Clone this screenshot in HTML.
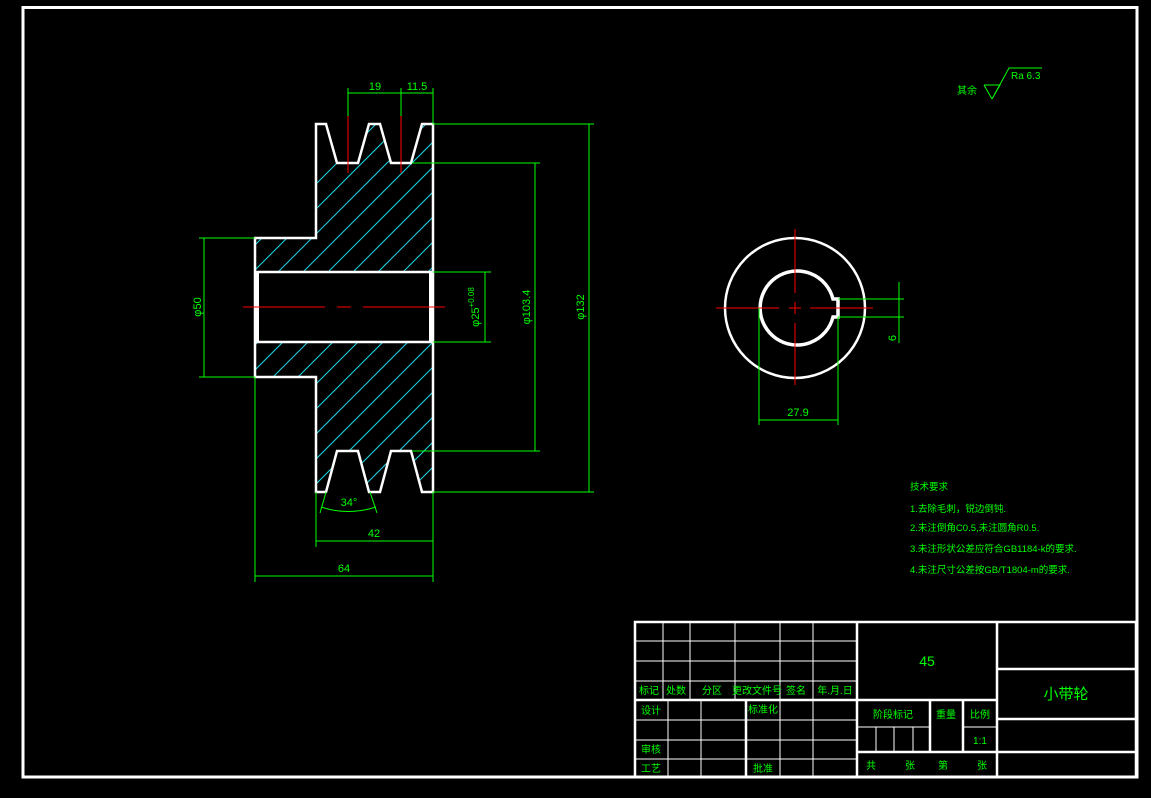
<!DOCTYPE html>
<html><head><meta charset="utf-8"><style>
html,body{margin:0;padding:0;background:#000;}
svg{display:block}
text{font-family:"Liberation Sans","Noto Sans CJK SC",sans-serif;fill:#00ff00;}
</style></head><body>
<svg width="1151" height="798" viewBox="0 0 1151 798" xmlns="http://www.w3.org/2000/svg">
<rect width="1151" height="798" fill="#000"/>
<rect x="23" y="7.5" width="1114" height="769.5" fill="none" stroke="#fff" stroke-width="3"/>
<defs>
<clipPath id="hatch">
<path d="M316,124 L326,124 L337,163 L358,163 L369,124 L380,124 L391,163 L411,163 L422,124 L433,124 L433,272 L255,272 L255,238 L316,238 Z"/>
<path d="M316,492 L326,492 L337,451 L358,451 L369,492 L380,492 L391,451 L411,451 L422,492 L433,492 L433,342 L255,342 L255,377 L316,377 Z"/>
</clipPath>
</defs>
<g clip-path="url(#hatch)" stroke="#19d8e6" stroke-width="1">
<g id="h">
<line x1="-100" y1="600" x2="500" y2="0"/><line x1="-75" y1="600" x2="525" y2="0"/><line x1="-50" y1="600" x2="550" y2="0"/><line x1="-25" y1="600" x2="575" y2="0"/><line x1="0" y1="600" x2="600" y2="0"/><line x1="25" y1="600" x2="625" y2="0"/><line x1="50" y1="600" x2="650" y2="0"/><line x1="75" y1="600" x2="675" y2="0"/><line x1="100" y1="600" x2="700" y2="0"/><line x1="125" y1="600" x2="725" y2="0"/><line x1="150" y1="600" x2="750" y2="0"/><line x1="175" y1="600" x2="775" y2="0"/><line x1="200" y1="600" x2="800" y2="0"/><line x1="225" y1="600" x2="825" y2="0"/><line x1="250" y1="600" x2="850" y2="0"/><line x1="275" y1="600" x2="875" y2="0"/><line x1="300" y1="600" x2="900" y2="0"/><line x1="325" y1="600" x2="925" y2="0"/><line x1="350" y1="600" x2="950" y2="0"/><line x1="375" y1="600" x2="975" y2="0"/><line x1="400" y1="600" x2="1000" y2="0"/><line x1="425" y1="600" x2="1025" y2="0"/><line x1="450" y1="600" x2="1050" y2="0"/>
</g>
</g>
<g fill="none" stroke="#fff" stroke-width="2.5">
<path d="M316,124 L326,124 L337,163 L358,163 L369,124 L380,124 L391,163 L411,163 L422,124 L433,124 L433,492 L422,492 L411,451 L391,451 L380,492 L369,492 L358,451 L337,451 L326,492 L316,492 L316,377 L255,377 L255,238 L316,238 Z"/>
<line x1="255" y1="272" x2="433" y2="272"/>
<line x1="255" y1="342" x2="433" y2="342"/>
</g>
<rect x="255" y="272" width="4" height="70" fill="#fff"/>
<rect x="429" y="272" width="4" height="70" fill="#fff"/>
<g stroke="#ff0000" stroke-width="1">
<line x1="348" y1="116" x2="348" y2="173"/>
<line x1="401" y1="116" x2="401" y2="173"/>
<line x1="243" y1="307" x2="325" y2="307"/><line x1="337" y1="307" x2="351" y2="307"/><line x1="363" y1="307" x2="445" y2="307"/>
</g>
<g stroke="#00ff00" stroke-width="1" fill="none">
<line x1="348" y1="88" x2="348" y2="116"/><line x1="401" y1="88" x2="401" y2="116"/><line x1="433" y1="88" x2="433" y2="124"/>
<line x1="348" y1="93" x2="433" y2="93"/>
<line x1="433" y1="124" x2="594" y2="124"/><line x1="433" y1="492" x2="594" y2="492"/><line x1="589" y1="124" x2="589" y2="492"/>
<line x1="412" y1="163" x2="540" y2="163"/><line x1="412" y1="451" x2="540" y2="451"/><line x1="535" y1="163" x2="535" y2="451"/>
<line x1="433" y1="272" x2="491" y2="272"/><line x1="433" y1="342" x2="491" y2="342"/><line x1="485" y1="272" x2="485" y2="342"/>
<line x1="199" y1="238" x2="255" y2="238"/><line x1="199" y1="377" x2="255" y2="377"/><line x1="204" y1="238" x2="204" y2="377"/>
<line x1="326" y1="492" x2="320" y2="513"/><line x1="370" y1="492" x2="377" y2="513"/>
<path d="M321,507 Q348,516 376,507"/>
<line x1="316" y1="492" x2="316" y2="547"/><line x1="433" y1="492" x2="433" y2="582"/><line x1="316" y1="541" x2="433" y2="541"/>
<line x1="255" y1="377" x2="255" y2="582"/><line x1="255" y1="576" x2="433" y2="576"/>
</g>
<g font-size="11" text-anchor="middle">
<text x="375" y="90">19</text><text x="417" y="90">11.5</text>
<text x="349" y="506">34°</text>
<text x="374" y="537">42</text>
<text x="344" y="572">64</text>
<text transform="translate(584,307) rotate(-90)">φ132</text>
<text transform="translate(530,307) rotate(-90)">φ103.4</text>
<text transform="translate(479,307) rotate(-90)">φ25<tspan font-size="8" dy="-5">+0.08</tspan></text>
<text transform="translate(201,307) rotate(-90)">φ50</text>
</g>
<!-- circle view -->
<circle cx="795" cy="308" r="70" fill="none" stroke="#fff" stroke-width="2.5"/>
<path d="M833,299 L838,299 L838,317 L833,317 A37,37 0 1 1 833,299 Z" fill="none" stroke="#fff" stroke-width="3.5"/>
<g stroke="#ff0000" stroke-width="1">
<line x1="795" y1="229" x2="795" y2="293"/><line x1="795" y1="302" x2="795" y2="314"/><line x1="795" y1="323" x2="795" y2="385"/>
<line x1="716" y1="308" x2="779" y2="308"/><line x1="789" y1="308" x2="801" y2="308"/><line x1="810" y1="308" x2="873" y2="308"/>
</g>
<g stroke="#00ff00" stroke-width="1">
<line x1="759" y1="308" x2="759" y2="425"/><line x1="838" y1="317" x2="838" y2="425"/><line x1="759" y1="420" x2="838" y2="420"/>
<line x1="838" y1="299" x2="904" y2="299"/><line x1="838" y1="317" x2="904" y2="317"/><line x1="899" y1="282" x2="899" y2="343"/>
</g>
<text x="798" y="416" font-size="11" text-anchor="middle">27.9</text>
<text transform="translate(896,338) rotate(-90)" font-size="11" text-anchor="middle">6</text>
<!-- roughness -->
<text x="957" y="94" font-size="10">其余</text>
<path d="M984,85 L1000,85 L992,99 L1009,68 L1042,68" fill="none" stroke="#00ff00" stroke-width="1"/>
<path d="M984,85 L992,99" stroke="#00ff00" stroke-width="1"/>
<text x="1011" y="79" font-size="10">Ra 6.3</text>
<!-- tech notes -->
<g font-size="9.5">
<text x="910" y="490">技术要求</text>
<text x="910" y="512">1.去除毛刺，锐边倒钝.</text>
<text x="910" y="531">2.未注倒角C0.5,未注圆角R0.5.</text>
<text x="910" y="552">3.未注形状公差应符合GB1184-k的要求.</text>
<text x="910" y="573">4.未注尺寸公差按GB/T1804-m的要求.</text>
</g>
<!-- title block -->
<g stroke="#fff" fill="none">
<rect x="635" y="622" width="501" height="155" stroke-width="2.5"/>
<line x1="857" y1="622" x2="857" y2="777" stroke-width="2.5"/>
<line x1="997" y1="622" x2="997" y2="777" stroke-width="2.5"/>
<g stroke-width="1">
<line x1="635" y1="641" x2="857" y2="641"/><line x1="635" y1="661" x2="857" y2="661"/><line x1="635" y1="681" x2="857" y2="681"/>
<line x1="635" y1="720" x2="857" y2="720"/><line x1="635" y1="740" x2="857" y2="740"/><line x1="635" y1="759" x2="857" y2="759"/>
<line x1="663" y1="622" x2="663" y2="700"/><line x1="690" y1="622" x2="690" y2="700"/><line x1="735" y1="622" x2="735" y2="700"/><line x1="780" y1="622" x2="780" y2="777"/><line x1="813" y1="622" x2="813" y2="777"/>
<line x1="668" y1="700" x2="668" y2="777"/><line x1="701" y1="700" x2="701" y2="777"/>
<line x1="876" y1="727" x2="876" y2="752"/><line x1="894" y1="727" x2="894" y2="752"/><line x1="913" y1="727" x2="913" y2="752"/>
<line x1="857" y1="727" x2="930" y2="727"/><line x1="963" y1="727" x2="997" y2="727"/>
</g>
<g stroke-width="2.5">
<line x1="635" y1="700" x2="857" y2="700"/><line x1="746" y1="700" x2="746" y2="777"/>
<line x1="857" y1="700" x2="997" y2="700"/><line x1="857" y1="752" x2="997" y2="752"/>
<line x1="930" y1="700" x2="930" y2="752"/><line x1="963" y1="700" x2="963" y2="752"/>
<line x1="997" y1="669" x2="1136" y2="669"/><line x1="997" y1="719" x2="1136" y2="719"/><line x1="997" y1="752" x2="1136" y2="752"/>
</g>
</g>
<g font-size="10" text-anchor="middle">
<text x="649" y="694">标记</text><text x="676" y="694">处数</text><text x="712" y="694">分区</text><text x="757" y="694">更改文件号</text><text x="796" y="694">签名</text><text x="835" y="694">年.月.日</text>
<text x="651" y="714">设计</text><text x="763" y="713">标准化</text>
<text x="651" y="753">审核</text><text x="651" y="772">工艺</text><text x="763" y="772">批准</text>
<text x="893" y="718">阶段标记</text><text x="946" y="718">重量</text><text x="980" y="718">比例</text>
<text x="980" y="744">1:1</text>
<text x="871" y="769">共</text><text x="910" y="769">张</text><text x="943" y="769">第</text><text x="982" y="769">张</text>
<text x="927" y="666" font-size="14">45</text>
<text x="1066" y="699" font-size="15">小带轮</text>
</g>
</svg>
</body></html>
